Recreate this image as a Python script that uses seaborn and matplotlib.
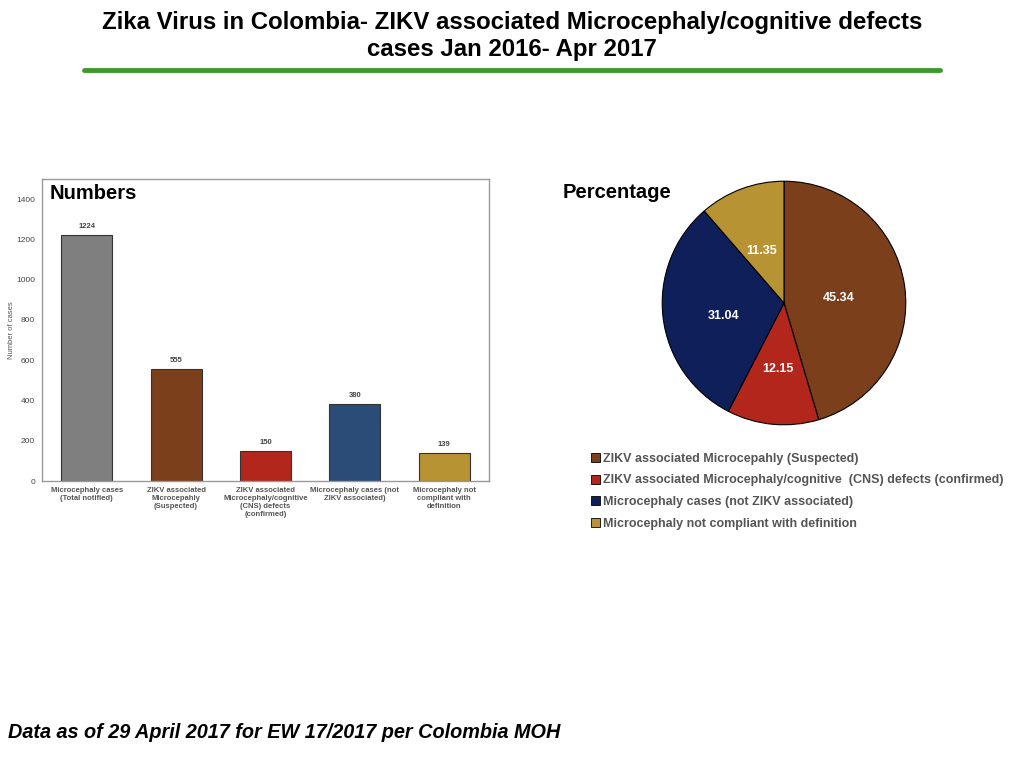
import matplotlib
matplotlib.use("Agg")
import matplotlib.pyplot as plt
import seaborn as sns
import pandas as pd
from matplotlib.patches import Patch

# data
bar_labels = ["Microcephaly cases\n(Total notified)",
              "ZIKV associated\nMicrocepahly\n(Suspected)",
              "ZIKV associated\nMicrocephaly/cognitive\n(CNS) defects\n(confirmed)",
              "Microcephaly cases (not\nZIKV associated)",
              "Microcephaly not\ncompliant with\ndefinition"]
bar_values = [1224, 555, 150, 380, 139]
bar_colors = ["#7f7f7f", "#7b3f1c", "#b3261c", "#2b4c76", "#b89334"]

pie_labels = ["ZIKV associated Microcepahly (Suspected)",
              "ZIKV associated Microcephaly/cognitive  (CNS) defects (confirmed)",
              "Microcephaly cases (not ZIKV associated)",
              "Microcephaly not compliant with definition"]
pie_values = [45.34, 12.15, 31.04, 11.35]
pie_colors = ["#7b3f1c", "#b3261c", "#0f1f5a", "#b89334"]

sns.set_style("white")
plt.rcParams["font.family"] = ["Liberation Sans", "DejaVu Sans"]
plt.rcParams["text.color"] = "black"

fig = plt.figure(figsize=(10.24, 7.68), dpi=100)

# title + green rule
fig.text(0.5, 0.986, "Zika Virus in Colombia- ZIKV associated Microcephaly/cognitive defects\ncases Jan 2016- Apr 2017",
         ha="center", va="top", fontsize=17.3, fontweight="bold", linespacing=1.25, color="black")
fig.add_artist(plt.Line2D([84 / 1024, 940 / 1024], [1 - 70 / 768, 1 - 70 / 768],
                          color="#3c9a2c", lw=3.5))

# bar chart
ax = fig.add_axes([42 / 1024, 1 - 481 / 768, 447 / 1024, 302 / 768])
df = pd.DataFrame({"cat": bar_labels, "val": bar_values})
sns.barplot(data=df, x="cat", y="val", hue="cat", palette=bar_colors, legend=False,
            saturation=1, width=0.57, edgecolor="#333333", linewidth=0.8, ax=ax)
ax.set_xlim(-0.5, 4.5)
ax.set_ylim(0, 1500)
ax.set_yticks(range(0, 1401, 200))
ax.tick_params(axis="y", labelsize=6, colors="#444444", pad=5, length=0)
ax.tick_params(axis="x", labelsize=5.5, colors="#555555", pad=4, length=0)
for lbl in ax.get_xticklabels():
    lbl.set_fontweight("bold")
ax.set_xlabel("")
ax.set_ylabel("")
fig.text(12 / 1024, 1 - 330 / 768, "Number of cases", rotation=90, ha="center",
         va="center", fontsize=5.5, color="#555555")
for s in ax.spines.values():
    s.set_color("#999999")
    s.set_linewidth(1)
for i, v in enumerate(bar_values):
    ax.text(i, v + 25, str(v), ha="center", va="bottom", fontsize=5.5,
            fontweight="bold", color="#444444")
ax.text(0.018, 0.985, "Numbers", transform=ax.transAxes, ha="left", va="top",
        fontsize=14.5, fontweight="bold", color="black")

# pie chart
pax = fig.add_axes([661 / 1024, 1 - 426 / 768, 246 / 1024, 246 / 768])
wedges, _ = pax.pie(pie_values, colors=pie_colors, startangle=90, counterclock=False,
                    wedgeprops=dict(edgecolor="black", linewidth=0.8))
pax.set_xlim(-1.01, 1.01)
pax.set_ylim(-1.01, 1.01)
pax.set_aspect("equal")
label_pos = [(0.45, 0.04), (-0.05, -0.54), (-0.50, -0.11), (-0.18, 0.43)]
for (x, y), v in zip(label_pos, pie_values):
    pax.text(x, y, f"{v:.2f}", ha="center", va="center", color="white",
             fontsize=9, fontweight="bold")
fig.text(563 / 1024, 1 - 193 / 768, "Percentage", ha="left", va="center",
         fontsize=14.5, fontweight="bold", color="black")

handles = [Patch(facecolor=c, edgecolor="black", linewidth=0.6) for c in pie_colors]
leg = fig.legend(handles, pie_labels, loc="upper left",
                 bbox_to_anchor=(586 / 1024, 1 - 448 / 768), frameon=False,
                 fontsize=9, handlelength=0.75, handleheight=0.75, handletextpad=0.2,
                 labelspacing=0.76, borderaxespad=0)
for t in leg.get_texts():
    t.set_color("#555555")
    t.set_fontweight("bold")

# footer
fig.text(8 / 1024, 1 - 733 / 768, "Data as of 29 April 2017 for EW 17/2017 per Colombia MOH",
         ha="left", va="center", fontsize=14.3, fontweight="bold", fontstyle="italic",
         color="black")

fig.savefig("out.png", dpi=100)
